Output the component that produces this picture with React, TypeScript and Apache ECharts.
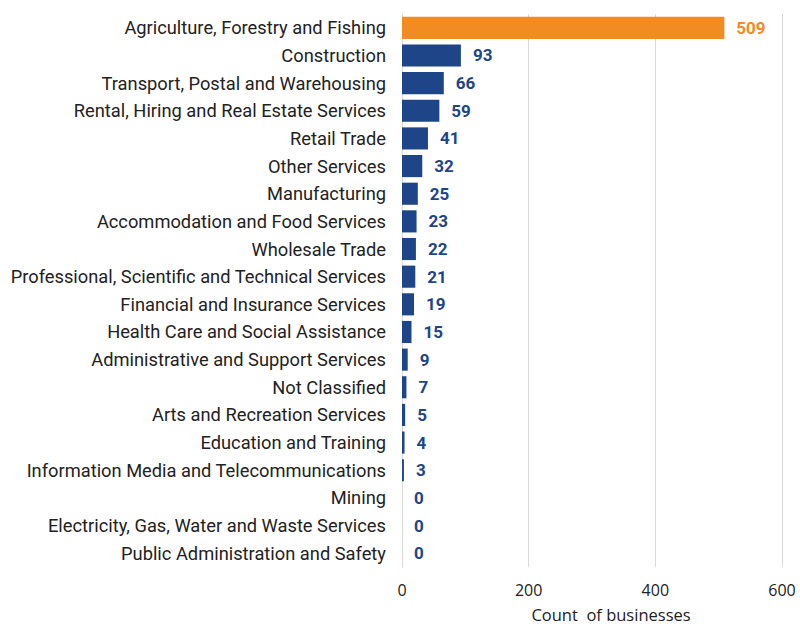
import React, { useEffect, useRef } from "react";
import * as echarts from "echarts";

const categories = [
  "Agriculture, Forestry and Fishing",
  "Construction",
  "Transport, Postal and Warehousing",
  "Rental, Hiring and Real Estate Services",
  "Retail Trade",
  "Other Services",
  "Manufacturing",
  "Accommodation and Food Services",
  "Wholesale Trade",
  "Professional, Scientific and Technical Services",
  "Financial and Insurance Services",
  "Health Care and Social Assistance",
  "Administrative and Support Services",
  "Not Classified",
  "Arts and Recreation Services",
  "Education and Training",
  "Information Media and Telecommunications",
  "Mining",
  "Electricity, Gas, Water and Waste Services",
  "Public Administration and Safety",
];
const counts = [509, 93, 66, 59, 41, 32, 25, 23, 22, 21, 19, 15, 9, 7, 5, 4, 3, 0, 0, 0];
const highlightIndex = 0;
const ORANGE = "#F28C22";
const BLUE = "#1F4589";

export default function App() {
  const ref = useRef<HTMLDivElement>(null);
  useEffect(() => {
    if (!ref.current) return;
    const chart = echarts.init(ref.current, null, { renderer: "svg" });
    chart.setOption({
      animation: false,
      textStyle: { fontFamily: "Roboto" },
      grid: {
        left: 402,
        right: 18,
        top: 14,
        bottom: 61,
        containLabel: false,
        outerBoundsMode: "none",
      },
      xAxis: {
        type: "value",
        min: 0,
        max: 600,
        interval: 200,
        name: "Count  of businesses",
        nameLocation: "middle",
        nameGap: 39,
        nameTextStyle: {
          fontSize: 16.5,
          lineHeight: 17,
          color: "#222",
          fontFamily: "Open Sans",
          padding: [0, 0, 0, 38],
        },
        axisLine: { show: false },
        axisTick: { show: false },
        axisLabel: { fontSize: 16, color: "#222", margin: 15, fontFamily: "Open Sans" },
        splitLine: { show: true, lineStyle: { color: "#D9D9D9", width: 1 } },
      },
      yAxis: {
        type: "category",
        data: categories,
        inverse: true,
        axisLine: { show: true, lineStyle: { color: "#D9D9D9" } },
        axisTick: { show: false },
        axisLabel: { fontSize: 18.3, color: "#222", margin: 16, fontFamily: "Roboto" },
      },
      series: [
        {
          type: "bar",
          data: counts.map((v, i) => ({
            value: v,
            itemStyle: { color: i === highlightIndex ? ORANGE : BLUE },
            label: { color: i === highlightIndex ? ORANGE : BLUE },
          })),
          barCategoryGap: "20%",
          label: {
            show: true,
            position: "right",
            distance: 12,
            fontSize: 17,
            fontWeight: "bold",
            fontFamily: "Roboto",
          },
        },
      ],
    });
    return () => chart.dispose();
  }, []);
  return <div ref={ref} style={{ width: 800, height: 628, position: "absolute", left: 0, top: 0 }} />;
}
